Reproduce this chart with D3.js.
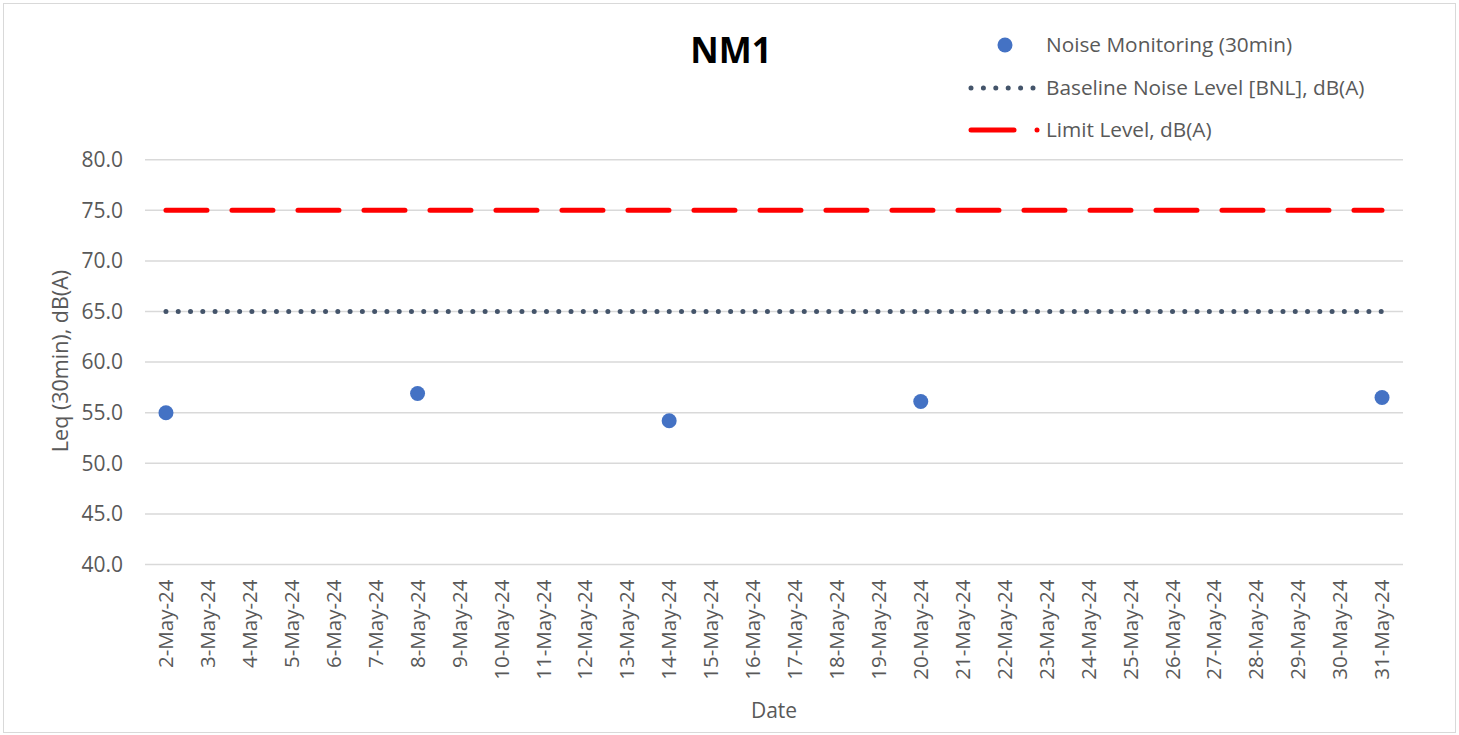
<!DOCTYPE html>
<html><head><meta charset="utf-8">
<script src="https://cdn.jsdelivr.net/npm/d3@7"></script>
<style>body{margin:0;background:#fff;} text{font-family:"Open Sans",sans-serif;}</style>
</head><body><svg id="c" width="1459" height="735"></svg>
<script>
const dates = ["2-May-24","3-May-24","4-May-24","5-May-24","6-May-24","7-May-24","8-May-24","9-May-24","10-May-24","11-May-24","12-May-24","13-May-24","14-May-24","15-May-24","16-May-24","17-May-24","18-May-24","19-May-24","20-May-24","21-May-24","22-May-24","23-May-24","24-May-24","25-May-24","26-May-24","27-May-24","28-May-24","29-May-24","30-May-24","31-May-24"];
const noiseDates = ["2-May-24","8-May-24","14-May-24","20-May-24","31-May-24"];
const noiseValues = [55.0, 56.9, 54.2, 56.1, 56.5];
const baselineLevel = 65;
const limitLevel = 75;
const yTicks = [40,45,50,55,60,65,70,75,80];

const svg = d3.select("#c");
svg.append("rect").attr("x",3.5).attr("y",3.5).attr("width",1452).attr("height",729)
  .attr("fill","#fff").attr("stroke","#d9d9d9").attr("stroke-width",1);

const pL=145, pR=1403, pT=159.7, pB=564.5;
const x = d3.scaleBand().domain(dates).range([pL,pR]);
const y = d3.scaleLinear().domain([40,80]).range([pB,pT]);

// gridlines
svg.append("g").selectAll("line").data(yTicks).join("line")
  .attr("x1",pL).attr("x2",pR).attr("y1",d=>y(d)).attr("y2",d=>y(d))
  .attr("stroke","#d9d9d9").attr("stroke-width",1.5);

// y axis labels
const yAxis = d3.axisLeft(y).tickValues(yTicks).tickFormat(d3.format(".1f")).tickSize(0).tickPadding(22);
const ya = svg.append("g").attr("transform",`translate(${pL},0)`).call(yAxis);
ya.select(".domain").remove();
ya.selectAll("text").attr("font-family","Open Sans").attr("font-size",21).attr("fill","#595959");

// x axis labels
const xAxis = d3.axisBottom(x).tickSize(0).tickPadding(0);
const xa = svg.append("g").attr("transform",`translate(0,${pB})`).call(xAxis);
xa.select(".domain").remove();
xa.selectAll("text").attr("font-family","Open Sans").attr("font-size",20.5).attr("fill","#595959")
  .attr("text-anchor","end").attr("dy","0.35em")
  .attr("transform","translate(0,15) rotate(-90)").attr("x",0).attr("y",0);

const xs = d => x(d)+x.bandwidth()/2;
const xFirst = xs(dates[0]), xLast = xs(dates[dates.length-1]);

// baseline dotted
svg.append("line").attr("x1",xFirst).attr("x2",xLast).attr("y1",y(baselineLevel)).attr("y2",y(baselineLevel))
  .attr("stroke","#44546a").attr("stroke-width",5).attr("stroke-linecap","round").attr("stroke-dasharray","0,12.275");
// limit dashed
svg.append("line").attr("x1",xFirst).attr("x2",xLast).attr("y1",y(limitLevel)).attr("y2",y(limitLevel))
  .attr("stroke","#ff0000").attr("stroke-width",5).attr("stroke-linecap","round").attr("stroke-dasharray","41,25");

// points
svg.append("g").selectAll("circle").data(noiseValues).join("circle")
  .attr("cx",(d,i)=>xs(noiseDates[i])).attr("cy",d=>y(d)).attr("r",7.5).attr("fill","#4472c4");

// title
svg.append("text").attr("x",731).attr("y",63).attr("text-anchor","middle")
  .attr("font-size",35).attr("font-weight","bold").attr("fill","#000").text("NM1");

// axis titles
svg.append("text").attr("x",774).attr("y",718).attr("text-anchor","middle")
  .attr("font-size",21).attr("fill","#595959").text("Date");
svg.append("text").attr("transform","translate(68,361) rotate(-90)").attr("text-anchor","middle")
  .attr("font-size",21.5).attr("fill","#595959").text("Leq (30min), dB(A)");

// legend
const lg = svg.append("g");
lg.append("circle").attr("cx",1005).attr("cy",45).attr("r",7.5).attr("fill","#4472c4");
lg.append("line").attr("x1",971).attr("x2",1033).attr("y1",88).attr("y2",88)
  .attr("stroke","#44546a").attr("stroke-width",5).attr("stroke-linecap","round").attr("stroke-dasharray","0,12.4");
lg.append("line").attr("x1",971).attr("x2",1014).attr("y1",130).attr("y2",130)
  .attr("stroke","#ff0000").attr("stroke-width",5).attr("stroke-linecap","round");
lg.append("circle").attr("cx",1037).attr("cy",130).attr("r",2.5).attr("fill","#ff0000");
const legTexts = ["Noise Monitoring (30min)","Baseline Noise Level [BNL], dB(A)","Limit Level, dB(A)"];
lg.selectAll("text.l").data(legTexts).join("text").attr("class","l")
  .attr("x",1046).attr("y",(d,i)=>45+i*42.5).attr("dy","0.35em")
  .attr("font-size",20.8).attr("fill","#595959").text(d=>d);
</script></body></html>
